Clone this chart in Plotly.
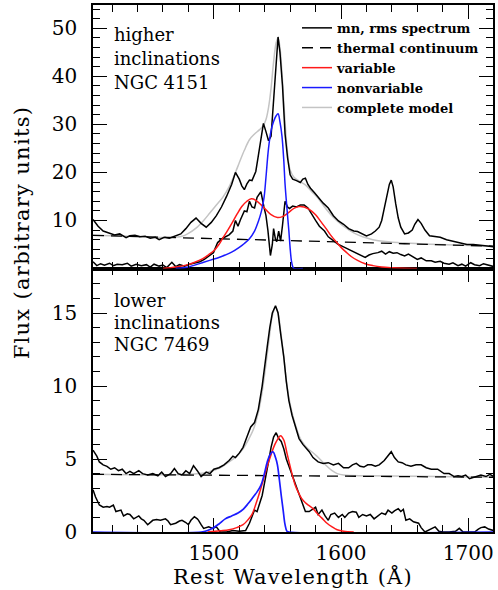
import plotly.graph_objects as go

# ---------------- top panel (NGC 4151) ----------------
top_mean_wl = [1405,1409,1413,1418,1422,1426,1431,1434,1438,1442,1446,1450,1454,1457,1461,1465,1470,1474,1478,1482,
               1486,1490,1494,1498,1502,1506,1510,1514,1517,1520,1522,1524,1526,1528,1530,1533,1535,1537,1539,1541,
               1543,1545,1547,1549,1550.5,1552,1554,1556,1558,1560,1562,1565,1568,1570,1572,1574,1576,1579,1582,1586,
               1590,1594,1598,1602,1606,1610,1613,1616,1620,1624,1627,1630,1632,1634,1636,1638,1639.5,1641,1643,1645,
               1647,1650,1653,1656,1658,1660.5,1663,1666,1669.6,1674,1678,1683,1689,1694,1699,1704,1710,1715,1720]
top_mean_f = [10.2,8.8,7.8,7.3,7.0,7.2,6.4,6.8,6.9,6.6,6.7,6.3,6.5,6.0,6.5,6.3,6.8,7.2,8.3,9.6,
              10.5,9.4,8.6,9.6,11.0,12.8,15.0,17.5,20.0,18.6,17.2,16.4,17.6,18.4,18.3,20.2,23.5,27.0,30.2,28.5,
              26.6,27.5,35.3,44.0,48.2,45.0,38.0,28.0,23.0,19.5,18.6,18.3,17.9,18.6,18.8,17.5,16.7,15.8,14.8,13.6,
              12.6,11.0,9.9,9.2,8.3,7.8,7.7,7.3,6.8,7.2,7.8,8.6,10.0,12.5,15.0,17.5,18.4,17.0,13.5,10.5,
              8.6,7.2,7.4,8.0,9.2,10.2,9.4,8.0,6.8,6.7,6.5,6.0,5.6,5.4,5.0,5.0,4.9,4.7,4.5]

top_rms_wl = [1405,1408,1411,1414,1418,1421,1424,1428,1432,1435,1439,1443,1447,1450,1453,1457,1460,1463,1467,1470,
              1473,1477,1481,1485,1489,1492.5,1496,1499.7,1503,1507,1512,1515,1517,1519,1521,1524,1526,1528,1530,1532,
              1534,1537,1539.4,1541,1542.5,1544.5,1546,1547,1548.5,1549.5,1551,1552.5,1554,1556,1558,1559.5,1562,1565,1568,1571,
              1574,1577,1580,1583,1587,1590,1594,1598,1602,1606,1610,1614,1619,1622,1625,1629,1632,1635,1638,1641,
              1644,1647,1650,1653,1656,1660,1663,1667,1671,1674,1678,1681,1685,1688,1692,1695,1698,1702,1705,1709,
              1712,1716,1720]
top_rms_f = [1.4,0.6,1.0,0.7,1.1,0.6,0.9,0.8,1.1,0.5,0.9,0.6,0.8,0.3,0.9,0.5,0.7,0.2,1.3,0.4,
             0.8,0.5,0.9,1.1,1.4,1.9,2.5,3.3,5.4,6.3,7.0,7.8,10.0,8.8,10.2,12.0,11.8,14.0,12.8,12.6,
             14.8,16.0,12.8,11.0,8.0,2.7,5.0,8.3,6.0,5.6,7.8,5.7,9.0,14.0,12.8,12.5,13.0,12.8,13.2,13.2,
             12.6,11.2,10.0,8.8,7.8,6.6,5.8,5.0,4.5,4.0,3.4,3.0,2.3,2.8,3.1,3.3,3.6,3.0,3.5,3.2,
             3.3,2.9,2.6,3.0,2.5,1.9,2.2,1.6,1.6,1.3,1.5,1.1,0.9,1.2,0.6,0.9,0.5,1.2,0.8,0.6,
             1.0,0.7,0.4]

top_cont_wl = [1405,1450,1500,1550,1600,1650,1700,1720]
top_cont_f = [6.9,6.55,6.2,5.85,5.5,5.15,4.8,4.65]

top_model_wl = [1405,1440,1465,1475,1480,1486,1492,1497,1502,1507,1512,1517,1520,1524,1528,1532,1536,1539,1541,1543,
                1545,1547,1549,1550.5,1552,1554,1556,1558,1560,1563,1567,1572,1577,1582,1587,1592,1597,1603,1610,1617,
                1625,1635,1650,1670,1690,1720]
top_model_f = [6.9,6.65,6.45,6.7,7.3,8.4,10.0,11.6,13.2,14.8,17.0,20.0,22.0,24.6,26.8,28.0,28.9,29.8,31.0,33.5,
               37.5,43.0,47.0,48.0,46.0,39.0,30.5,24.0,20.5,19.0,18.2,17.4,16.0,14.6,12.8,11.2,9.9,8.6,7.4,6.6,
               6.0,5.6,5.3,5.05,4.9,4.65]

top_var_wl = [1460,1470,1478,1485,1491,1496,1500,1504,1507,1511,1514.6,1518,1522,1526,1529.5,1533,1537,1541,1545,1550,
              1554,1559,1563,1567,1571,1575,1580,1584,1588,1592,1596,1600,1604,1608,1613,1619,1625,1632,1640,1650,1660]
top_var_f = [0.0,0.3,0.7,1.3,2.0,2.9,3.7,5.0,6.3,8.0,9.6,11.2,12.9,14.0,14.5,14.2,13.3,12.2,11.2,10.6,
             10.8,11.7,12.5,12.9,12.8,12.3,11.2,9.8,8.4,6.9,5.6,4.4,3.4,2.5,1.7,1.0,0.6,0.3,0.15,0.05,0.0]

top_nonvar_wl = [1470,1478,1485,1492,1498,1504,1509,1514,1520,1524,1528,1532,1535,1537.5,1539.5,1541,1543,1545,1547,1549,
                 1550.5,1552,1553.6,1555,1556,1557.5,1559,1560,1561,1562,1563,1570]
top_nonvar_f = [0.0,0.2,0.7,1.3,1.8,2.3,2.8,3.4,4.4,5.2,6.2,7.8,9.8,12.0,14.8,19.0,25.0,28.7,30.6,31.8,
                32.2,30.5,27.5,22.5,17.6,12.5,7.8,4.2,1.6,0.4,0.0,0.0]

# ---------------- bottom panel (NGC 7469) ----------------
bot_mean_wl = [1405,1408,1410,1413,1416,1419,1422,1425,1428,1431,1434,1437,1441,1444,1448,1452,1456,1459,1462,1466,
               1469,1472,1475,1478,1481,1484,1487,1490,1494,1497,1500,1504,1508,1512,1515,1517,1520,1523,1526,1529,
               1532,1535,1538,1540,1542,1544,1546,1548.5,1550.5,1552.5,1555,1557,1559,1561.5,1564,1567,1570,1572,1575,1578,
               1582,1586,1590,1594,1598,1602,1606,1609,1612,1615,1618,1621,1624,1627,1630,1634,1637,1639.5,1642,1645,
               1648,1651,1655,1659,1663,1667,1671,1676,1681,1685,1689,1692,1695,1698,1701,1705,1710,1714,1717,1720]
bot_mean_f = [5.6,5.2,4.8,4.6,4.5,4.3,4.4,4.2,4.3,4.0,4.15,4.0,4.2,4.0,3.9,4.0,3.85,4.1,3.8,4.0,
              4.35,4.0,3.9,4.2,4.0,4.55,4.2,3.8,4.1,4.0,4.3,4.4,4.6,4.9,5.2,5.1,5.4,5.8,6.5,7.2,
              7.5,8.4,10.0,11.5,12.7,14.0,15.0,15.5,15.0,13.6,12.0,10.3,9.0,8.0,7.2,6.4,6.0,5.8,5.5,5.1,
              4.8,4.7,4.75,4.6,4.7,4.4,4.4,4.6,4.7,4.5,4.45,4.6,4.6,4.5,4.6,4.9,5.2,5.5,5.1,4.8,
              4.75,4.6,4.5,4.6,4.6,4.4,4.3,4.3,4.0,4.0,3.8,3.85,3.8,3.9,3.65,3.75,3.9,3.8,3.95,3.8]

bot_rms_wl = [1405,1407,1410,1413,1416,1418,1421,1423,1427,1429,1432,1434,1437,1441,1443,1445,1448,1452,1455,1458,
              1462,1464,1466,1470,1473,1475,1478,1480,1482,1484.7,1487,1488,1490,1492,1496,1499,1502,1505,1510,1515,
              1520,1525,1528,1530,1532,1534,1536,1538,1539.5,1541,1543,1545,1547,1549,1551,1553,1555,1557,1559,1561.5,
              1564,1566,1568,1570,1572,1575,1577,1580,1582,1585,1587.5,1590,1592,1595,1598,1601,1603,1606,1609,1612,
              1614,1617,1620,1623,1626,1629,1632,1635,1637,1640,1642,1645,1647,1649,1651,1654,1657,1661,1663,1666,
              1669,1671,1674,1677,1680,1685,1690,1693,1696,1700,1705,1708,1710,1713,1716,1720]
bot_rms_f = [2.9,2.4,1.85,1.7,1.75,1.7,1.85,1.4,1.5,1.1,1.25,1.2,0.9,1.1,0.9,0.8,0.5,0.8,0.85,0.8,
             0.9,0.75,0.5,0.6,0.75,0.8,0.65,0.5,0.8,1.05,0.9,0.8,0.5,0.25,0.35,0.25,0.35,0.0,0.0,0.1,
             0.05,0.1,0.6,1.05,1.5,1.4,1.9,2.5,3.2,4.0,4.8,5.8,6.5,6.8,6.4,6.2,5.7,5.0,4.5,3.9,
             3.3,2.9,2.4,1.9,1.4,1.4,1.5,1.7,1.2,1.5,1.1,0.8,1.2,1.3,1.0,1.2,1.0,1.3,1.4,1.35,
             1.0,1.2,1.1,1.2,0.9,1.1,1.3,1.2,1.5,1.3,1.45,1.6,1.4,1.55,0.8,0.9,0.7,0.6,0.3,0.0,
             0.15,0.25,0.35,0.05,0.0,0.0,0.05,0.25,0.0,0.0,0.0,0.2,0.3,0.35,0.2,0.1]

bot_cont_wl = [1405,1500,1600,1720]
bot_cont_f = [3.95,3.9,3.85,3.75]

bot_model_wl = [1405,1450,1480,1495,1505,1512,1518,1523,1527,1531,1535,1538,1541,1544,1546,1548.5,1550.5,1552.5,1555,1557,
                1559,1562,1565,1568,1571,1574,1577,1581,1585,1589,1593,1597,1602,1620,1660,1720]
bot_model_f = [3.95,3.92,3.95,4.1,4.4,4.8,5.2,5.7,6.3,7.0,8.2,9.6,11.5,13.6,14.8,15.4,15.0,13.8,12.0,10.4,
               9.2,8.0,7.1,6.4,6.0,5.7,5.5,5.2,4.85,4.5,4.2,4.0,3.9,3.85,3.82,3.75]

bot_var_wl = [1495,1505,1512,1518,1523,1527,1530,1533,1536,1539,1542,1545,1548,1550.5,1552.5,1555,1557.5,1560,1562,1564,
              1566.5,1569,1572,1575,1578,1581,1585,1589,1593,1597,1602,1610]
bot_var_f = [0.0,0.08,0.15,0.3,0.5,0.85,1.2,1.9,2.7,3.6,4.5,5.3,6.0,6.4,6.6,6.3,5.4,4.5,3.8,3.2,
             2.7,2.3,2.0,1.8,1.6,1.3,0.95,0.6,0.35,0.15,0.05,0.0]

bot_nonvar_wl = [1405,1490,1495,1499,1504,1509,1514,1519,1523,1527,1531,1534,1537,1539.5,1542,1544.5,1546.5,1548.5,1550,1551.5,
                 1553,1554.5,1556,1557.5,1559,1720]
bot_nonvar_f = [0.0,0.0,0.1,0.25,0.55,0.9,1.1,1.3,1.55,1.95,2.4,2.75,3.2,3.9,4.8,5.35,5.5,5.1,4.6,3.6,
                2.5,1.5,0.5,0.05,0.0,0.0]

x_ticks = [1500, 1600, 1700]
top_yticks = [10, 20, 30, 40, 50]
bot_yticks = [0, 5, 10, 15]

FONT = "DejaVu Serif"
BLACK = "black"
RED = "#ff1a1a"
BLUE = "#1a1aff"
GREY = "#c4c4c4"

fig = go.Figure()

def add(panel, x, y, color, width, name=None, legend=False, rank=None, dash=None, shape="linear"):
    xa, ya = ("x2", "y2") if panel == "top" else ("x", "y")
    fig.add_trace(go.Scatter(
        x=x, y=y, mode="lines", xaxis=xa, yaxis=ya,
        line=dict(color=color, width=width, dash=dash, shape=shape),
        name=name, showlegend=legend, legendrank=rank if rank else 1000,
        hoverinfo="skip"))

# top panel
add("top", top_model_wl, top_model_f, GREY, 1.5, "complete model", True, 5, shape="spline")
add("top", top_cont_wl, top_cont_f, BLACK, 1.3, "thermal continuum", True, 2, dash="11px,7px")
add("top", top_mean_wl, top_mean_f, BLACK, 1.5, "mn, rms spectrum", True, 1)
add("top", top_rms_wl, top_rms_f, BLACK, 1.5)
add("top", top_var_wl, top_var_f, RED, 1.5, "variable", True, 3, shape="spline")
add("top", top_nonvar_wl, top_nonvar_f, BLUE, 1.5, "nonvariable", True, 4, shape="spline")

# bottom panel
add("bot", bot_model_wl, bot_model_f, GREY, 1.5, shape="spline")
add("bot", bot_cont_wl, bot_cont_f, BLACK, 1.3, dash="11px,7px")
add("bot", bot_mean_wl, bot_mean_f, BLACK, 1.5)
add("bot", bot_rms_wl, bot_rms_f, BLACK, 1.5)
add("bot", bot_var_wl, bot_var_f, RED, 1.5, shape="spline")
add("bot", bot_nonvar_wl, bot_nonvar_f, BLUE, 1.7, shape="spline")

axis_common = dict(
    showline=True, linecolor="black", linewidth=1.6, mirror="allticks",
    ticks="inside", ticklen=14, tickwidth=1.3, tickcolor="black",
    showgrid=False, zeroline=False,
    tickfont=dict(family=FONT, size=20, color="black"),
)
minor_common = dict(ticks="inside", ticklen=7, tickwidth=1.2, tickcolor="black", showgrid=False)

xr = [1405, 1719.5]
fig.update_layout(
    width=498, height=590,
    margin=dict(l=93, r=3, t=5, b=58),
    paper_bgcolor="white", plot_bgcolor="white",
    xaxis=dict(**axis_common, domain=[0, 1], range=xr, tickvals=x_ticks, ticklabelstandoff=2,
               minor=dict(**minor_common, dtick=20, tick0=1500),
               anchor="y", layer="below traces"),
    xaxis2=dict(**axis_common, domain=[0, 1], range=xr, tickvals=x_ticks, showticklabels=False, matches="x",
                minor=dict(**minor_common, dtick=20, tick0=1500),
                anchor="y2"),
    yaxis=dict(**axis_common, domain=[0, 0.5], range=[0, 18.05], tickvals=bot_yticks, ticklabelstandoff=10,
               minor=dict(**minor_common, dtick=1, tick0=0),
               anchor="x"),
    yaxis2=dict(**axis_common, domain=[0.5, 1], range=[0, 54.85], tickvals=top_yticks, ticklabelstandoff=10,
                minor=dict(**minor_common, dtick=2, tick0=0),
                anchor="x2"),
    legend=dict(x=0.51, y=0.985, xanchor="left", yanchor="top", bgcolor="rgba(0,0,0,0)",
                font=dict(family=FONT, size=13, color="black", weight="bold"),
                itemwidth=30, tracegroupgap=0),
    showlegend=True,
)

ann_font = dict(family=FONT, size=18, color="black")
def ptext(text, px_x, px_y, **kw):
    fig.add_annotation(text=text, xref="paper", yref="paper",
                       x=(px_x - 93) / 402, y=(532 - px_y) / 527,
                       showarrow=False, **kw)

for t, yy in [("higher", 35), ("inclinations", 58), ("NGC 4151", 82)]:
    ptext(t, 112, yy, xanchor="left", yanchor="middle", font=ann_font)
for t, yy in [("lower", 300), ("inclinations", 322), ("NGC 7469", 344)]:
    ptext(t, 112, yy, xanchor="left", yanchor="middle", font=ann_font)

ptext('<span style="letter-spacing:1.2px">Rest Wavelength (Å)</span>', 294, 576,
      xanchor="center", yanchor="middle", font=dict(family=FONT, size=21, color="black"))
ptext('<span style="letter-spacing:1.3px">Flux (arbitrary units)</span>', 22, 232,
      xanchor="center", yanchor="middle", textangle=-90,
      font=dict(family=FONT, size=21, color="black"))

fig.write_html("out.html")
